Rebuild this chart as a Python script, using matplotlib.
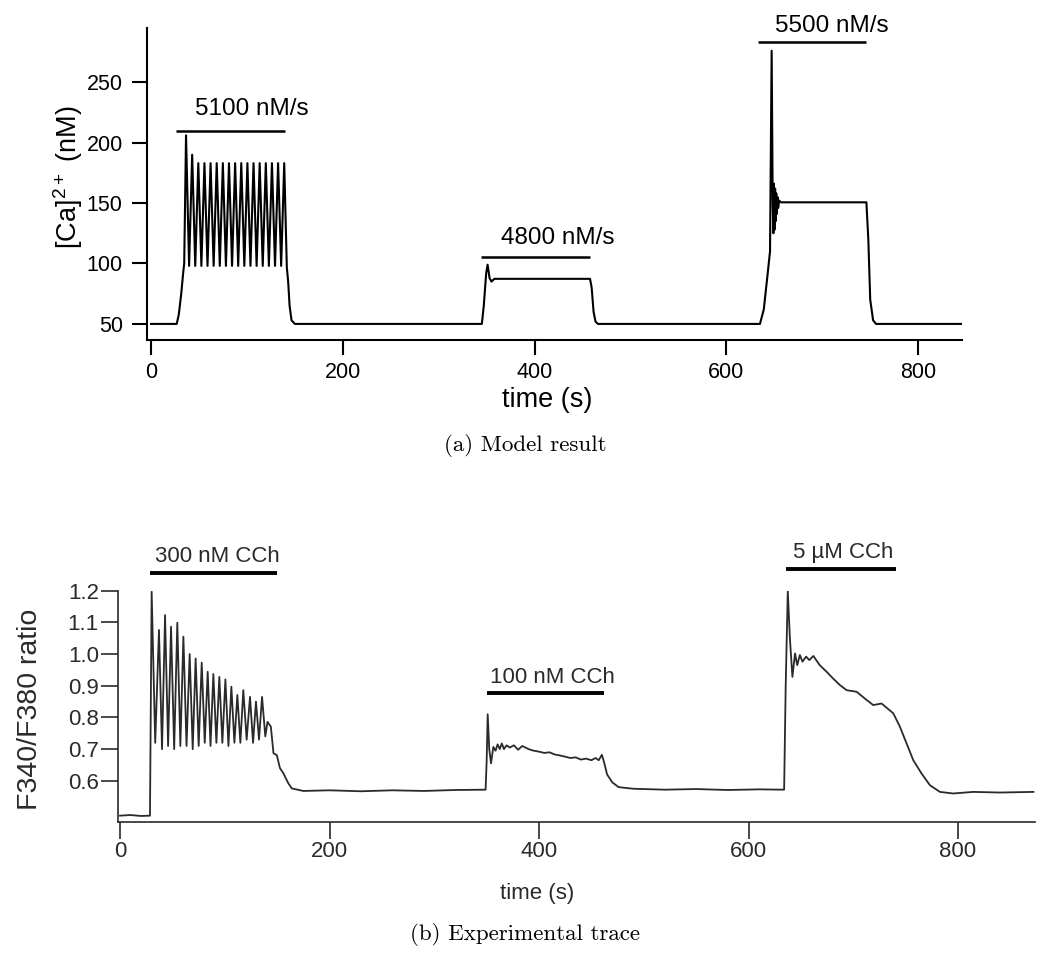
import numpy as np
import matplotlib.pyplot as plt

plt.rcParams['font.family'] = ['Liberation Sans', 'DejaVu Sans']
plt.rcParams['mathtext.fontset'] = 'custom'
plt.rcParams['mathtext.rm'] = 'Liberation Sans'

# ---- (a) model result: time (s) vs [Ca2+] (nM) ----
model_pre_t = [0, 26.8, 29.0, 31.5, 33.5, 34.6]
model_pre_v = [50, 50, 58, 75, 92, 100]
model_peak_t = [36.5, 42.9, 49.3, 55.7, 62.1, 68.5, 74.9, 81.3, 87.7, 94.1,
                100.5, 106.9, 113.3, 119.7, 126.1, 132.5, 138.9]
model_peak_v = [206, 190, 183, 183, 183, 183, 183, 183, 183, 183,
                183, 183, 183, 183, 183, 183, 183]
model_trough_t = [39.7, 46.1, 52.5, 58.9, 65.3, 71.7, 78.1, 84.5, 90.9, 97.3,
                  103.7, 110.1, 116.5, 122.9, 129.3, 135.7, 141.6]
model_trough_v = [98, 98, 98, 98, 98, 98, 98, 98, 98, 98,
                  98, 98, 98, 98, 98, 98, 97]
model_post_t = [143.0, 144.5, 146.5, 150, 345, 347, 349.5, 351, 353, 355, 358,
                457.8, 459.5, 461.5, 463.5, 466, 635, 639, 642.7, 645.5, 647.2,
                648.3, 649.0, 649.6, 650.2, 650.8, 651.4, 652.0, 652.6, 653.3,
                654.0, 655.0, 657.0, 746, 748, 750, 753, 756, 846]
model_post_v = [85, 65, 53, 50, 50, 65, 92, 99, 88, 85, 87.3,
                87.3, 80, 60, 52, 50, 50, 62, 89, 110, 276,
                150, 125, 166, 128, 162, 135, 158, 141, 155,
                146, 152, 150.6, 150.6, 120, 70, 53, 50, 50]

model_bar_start = [25.6, 344, 633]
model_bar_end = [139.7, 458, 746]
model_bar_level = [210, 105, 283]
model_labels = ['5100 nM/s', '4800 nM/s', '5500 nM/s']
model_label_t = [46, 365, 650.7]
model_label_v = [222.5, 116.3, 291.3]

# ---- (b) experimental trace: time (s) vs F340/F380 ratio ----
exp_pre_t = [0, 10, 20, 28.6, 29.3]
exp_pre_v = [0.490, 0.492, 0.489, 0.490, 0.80]
exp_peak_t = [30.2, 37.2, 43.0, 48.7, 54.7, 60.5, 66.5, 72.2, 78.0, 83.7,
              89.1, 94.8, 100.6, 106.3, 112.0, 117.7, 124.1, 129.8, 135.6]
exp_peak_v = [1.197, 1.076, 1.123, 1.086, 1.099, 1.055, 1.000, 0.986, 0.973,
              0.944, 0.937, 0.928, 0.920, 0.897, 0.871, 0.886, 0.865, 0.850,
              0.865]
exp_trough_t = [33.6, 40.1, 45.9, 51.7, 57.6, 63.5, 69.4, 75.1, 80.9, 86.4,
                92.0, 97.7, 103.5, 109.2, 114.9, 120.9, 127.0, 132.7, 138.7]
exp_trough_v = [0.72, 0.70, 0.71, 0.70, 0.71, 0.71, 0.70, 0.71, 0.72, 0.71,
                0.72, 0.72, 0.71, 0.72, 0.72, 0.73, 0.72, 0.73, 0.74]
exp_post_t = [140.8, 144, 146.5, 149.7, 152.7, 155.9, 160.7, 164, 175, 200,
              230, 260, 290, 320, 349, 350, 351, 352.5, 354.2, 356.4, 358.5,
              360.5, 362.5, 364.5, 366.5, 369, 372, 376, 380, 384, 390, 395,
              400, 405, 410, 415, 420, 425, 430, 435, 440, 445, 450, 454, 457,
              460, 462, 465, 470, 476, 490, 520, 550, 580, 610, 634, 635.5,
              637.5, 639.5, 641.9, 644.4, 646.5, 649, 651.5, 655, 658, 661.9,
              668, 674.6, 681, 687.3, 693.7, 703.2, 712.8, 719.1, 727, 732,
              738.2, 744.5, 750.9, 757.3, 765.2, 773.2, 782.7, 795.4, 814.5,
              840, 872]
exp_post_v = [0.786, 0.771, 0.687, 0.681, 0.640, 0.624, 0.592, 0.576, 0.568,
              0.570, 0.567, 0.570, 0.568, 0.571, 0.572, 0.66, 0.81, 0.70,
              0.655, 0.707, 0.695, 0.715, 0.700, 0.718, 0.700, 0.712, 0.705,
              0.712, 0.698, 0.710, 0.700, 0.695, 0.692, 0.688, 0.690, 0.683,
              0.680, 0.676, 0.672, 0.674, 0.667, 0.670, 0.665, 0.672, 0.665,
              0.682, 0.660, 0.620, 0.595, 0.580, 0.575, 0.572, 0.574, 0.571,
              0.573, 0.572, 0.90, 1.200, 1.050, 0.928, 1.002, 0.965, 0.997,
              0.976, 0.992, 0.981, 0.994, 0.965, 0.944, 0.922, 0.902, 0.886,
              0.881, 0.855, 0.839, 0.844, 0.830, 0.813, 0.771, 0.718, 0.665,
              0.623, 0.586, 0.565, 0.560, 0.565, 0.563, 0.565]

exp_bar_start = [28.7, 350, 636]
exp_bar_end = [150.3, 462, 741]
exp_bar_level = [1.255, 0.876, 1.267]
exp_labels = ['300 nM CCh', '100 nM CCh', '5 µM CCh']
exp_label_t = [33.4, 353, 642.5]
exp_label_v = [1.291, 0.909, 1.303]


def zigzag(peak_t, peak_v, trough_t, trough_v):
    t = np.column_stack([peak_t, trough_t]).ravel()
    v = np.column_stack([peak_v, trough_v]).ravel()
    return t, v


def style_axes(ax, lw, tick_len, color):
    for side in ['top', 'right']:
        ax.spines[side].set_visible(False)
    for side in ['left', 'bottom']:
        ax.spines[side].set_linewidth(lw)
        ax.spines[side].set_color(color)
    ax.tick_params(direction='out', length=tick_len, width=lw, colors=color)


fig = plt.figure(figsize=(10.5, 9.6), dpi=100)
W, H = 1050, 960

# ---- top panel ----
ax1 = fig.add_axes([147 / W, 1 - 340 / H, (962 - 147) / W, (340 - 28) / H])
osc_t, osc_v = zigzag(model_peak_t, model_peak_v, model_trough_t, model_trough_v)
t1 = np.concatenate([model_pre_t, osc_t, model_post_t])
v1 = np.concatenate([model_pre_v, osc_v, model_post_v])
ax1.plot(t1, v1, color='black', lw=1.5)
for s, e, lv, lab, lt, lvv in zip(model_bar_start, model_bar_end, model_bar_level,
                                  model_labels, model_label_t, model_label_v):
    ax1.plot([s, e], [lv, lv], color='black', lw=1.8, solid_capstyle='butt',
             clip_on=False)
    ax1.text(lt, lvv, lab, fontsize=17.5, ha='left', va='baseline')
ax1.set_xlim(-4.2, 845.7)
ax1.set_ylim(36.7, 294.8)
ax1.set_xticks([0, 200, 400, 600, 800])
ax1.set_yticks([50, 100, 150, 200, 250])
style_axes(ax1, 1.5, 11, 'black')
ax1.tick_params(labelsize=15.5)
ax1.tick_params(axis='y', pad=6.5)
ax1.tick_params(axis='x', pad=5)

fig.text(68 / W, 1 - 177 / H, r'[Ca]$^{2+}$ (nM)', rotation=90, ha='center',
         va='center', fontsize=19.5)
fig.text(547 / W, 1 - 400 / H, 'time (s)', ha='center', va='center',
         fontsize=19.5)
fig.text(525 / W, 1 - 445 / H, '(a) Model result', ha='center', va='center',
         fontsize=16.6, family='cmr10')

# ---- bottom panel ----
gray = '#2a2a2a'
ax2 = fig.add_axes([117.5 / W, 1 - 822 / H, (1035 - 117.5) / W, (822 - 590.7) / H])
osc_t, osc_v = zigzag(exp_peak_t, exp_peak_v, exp_trough_t, exp_trough_v)
t2 = np.concatenate([exp_pre_t, osc_t, exp_post_t])
v2 = np.concatenate([exp_pre_v, osc_v, exp_post_v])
ax2.plot(t2, v2, color=gray, lw=1.3)
for s, e, lv, lab, lt, lvv in zip(exp_bar_start, exp_bar_end, exp_bar_level,
                                  exp_labels, exp_label_t, exp_label_v):
    ax2.plot([s, e], [lv, lv], color='black', lw=2.8, solid_capstyle='butt',
             clip_on=False)
    ax2.text(lt, lvv, lab, fontsize=16, ha='left', va='baseline', color=gray)
ax2.set_xlim(-2.4, 873.5)
ax2.set_ylim(0.47, 1.2)
ax2.set_xticks([0, 200, 400, 600, 800])
ax2.set_yticks([0.6, 0.7, 0.8, 0.9, 1.0, 1.1, 1.2])
ax2.set_yticklabels(['%.1f' % y for y in [0.6, 0.7, 0.8, 0.9, 1.0, 1.1, 1.2]])
style_axes(ax2, 1.2, 12, gray)
ax2.tick_params(labelsize=16, pad=1.5)

fig.text(30 / W, 1 - 709 / H, 'F340/F380 ratio', rotation=90, ha='center',
         va='center', fontsize=20.5, color=gray)
fig.text(537 / W, 1 - 893 / H, 'time (s)', ha='center', va='center',
         fontsize=16, color=gray)
fig.text(525 / W, 1 - 935 / H, '(b) Experimental trace', ha='center',
         va='center', fontsize=16.6, family='cmr10')

fig.savefig('out.png', dpi=100)
